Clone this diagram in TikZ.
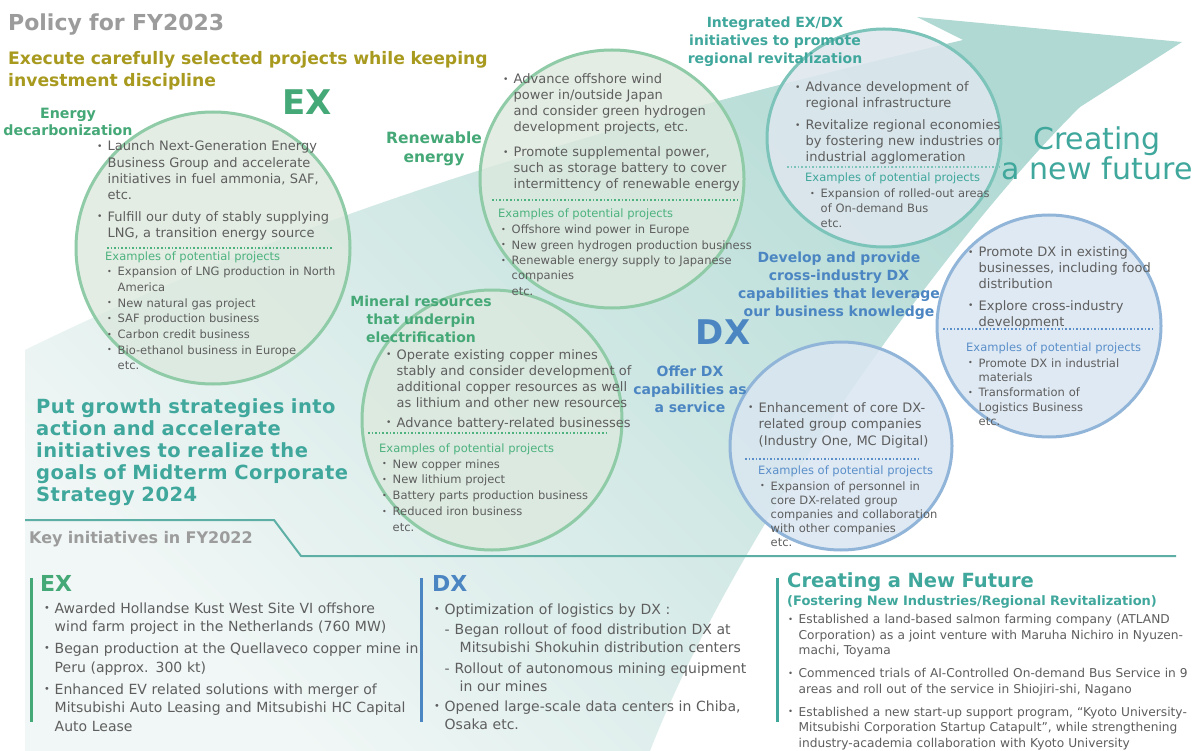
\documentclass[tikz,border=0pt]{standalone}
\usepackage{fontspec}
\setmainfont{DejaVu Sans}
\newfontfamily\spacedfont[LetterSpace=2.5]{DejaVu Sans}
\usetikzlibrary{calc}

\definecolor{exgreen}{HTML}{45A877}
\definecolor{exlight}{HTML}{4DB27E}
\definecolor{dxblue}{HTML}{4C86C2}
\definecolor{dxlight}{HTML}{5A8FCA}
\definecolor{nftel}{HTML}{3FA79C}
\definecolor{polcol}{HTML}{A89A1F}
\definecolor{bodygray}{HTML}{5E5E5E}
\definecolor{headgray}{HTML}{9C9C9C}
\definecolor{grnline}{HTML}{8ECBA6}
\definecolor{grnfill}{HTML}{DCE9DE}
\definecolor{blueline}{HTML}{91B5D8}
\definecolor{bluefill}{HTML}{DAE6F1}
\definecolor{tealline}{HTML}{7CC3BA}
\definecolor{tealfill}{HTML}{DEE7EE}
\definecolor{arrlight}{HTML}{F1F7F6}
\definecolor{arrdark}{HTML}{B0D9D3}
\definecolor{sepline}{HTML}{5DAFA6}

\newlength\bind
\setlength\bind{10.5pt}
\newcommand\dotmark{\raisebox{.12em}{\scalebox{.7}{•}}}
\newcommand\itm[1]{\hangindent=\bind\hangafter=1\noindent
  \makebox[\bind][l]{\dotmark}#1\par}
\newcommand\subitm[1]{\hangindent=\dimexpr\bind+15pt\relax\hangafter=1
  \noindent\hspace*{\bind}\makebox[10pt][l]{-}#1\par}
\newcommand\etcl{\noindent\hspace*{\bind}etc.\par}

\tikzset{
  lst/.style 2 args={anchor=base west, inner sep=0pt, align=left,
    text width=430pt, text=bodygray, font=\fontsize{#1}{#2}\selectfont},
  hd/.style 2 args={anchor=base, inner sep=0pt, align=center,
    text width=260pt, font=\bfseries\fontsize{#1}{#2}\selectfont},
  tl/.style 2 args={anchor=base west, inner sep=0pt, align=left,
    text width=560pt, font=\bfseries\fontsize{#1}{#2}\selectfont},
  gap/.style={execute at begin node={\setlength\parskip{#1}}},
  exhd/.style={anchor=base west, inner sep=0pt,
    font=\fontsize{11.5}{14}\selectfont},
  dots/.style={line width=2pt, dash pattern=on 1.5pt off 2.1pt},
  rim/.style={draw=#1, line width=3pt},
  bar/.style={line width=3pt, draw=#1}
}

\begin{document}
\begin{tikzpicture}[x=1pt,y=-1pt]
\useasboundingbox (0,0) rectangle (1193,751);
\fill[white] (0,0) rectangle (1193,751);
\shade[left color=arrlight,right color=arrdark,shading angle=135]
  (25,350) .. controls (300,215) and (600,125) .. (963,40) -- (917,17)
  -- (1182,42) -- (1080,107) .. controls (960,225) and (740,520) .. (650,751)
  -- (25,751) -- cycle;

% bubbles
\fill[grnfill,fill opacity=.8] (213,248) ellipse [x radius=137,y radius=136];
\fill[grnfill,fill opacity=.8] (612,179) ellipse [x radius=132,y radius=129];
\fill[grnfill,fill opacity=.8] (492,420) ellipse [x radius=130,y radius=130];
\fill[tealfill,fill opacity=.85] (884,138) ellipse [x radius=117,y radius=109];
\fill[bluefill,fill opacity=.85] (1049,326) ellipse [x radius=112,y radius=111];
\fill[bluefill,fill opacity=.85] (841,446) ellipse [x radius=111,y radius=104];
\draw[rim=grnline] (213,248) ellipse [x radius=137,y radius=136];
\draw[rim=grnline] (612,179) ellipse [x radius=132,y radius=129];
\draw[rim=grnline] (492,420) ellipse [x radius=130,y radius=130];
\draw[rim=tealline] (884,138) ellipse [x radius=117,y radius=109];
\draw[rim=blueline] (1049,326) ellipse [x radius=112,y radius=111];
\draw[rim=blueline] (841,446) ellipse [x radius=111,y radius=104];

% headings
\node[tl={22}{26}, text=headgray] (ttl) at (8,31) {Policy for FY2023};
\node[tl={17.2}{22}, text=polcol] (exec) at (8,65)
  {Execute carefully selected projects while keeping\\investment discipline};
\node[hd={34}{34}, text=exgreen] (bigex) at (307,115) {EX};
\node[hd={34}{34}, text=dxblue] (bigdx) at (723,344) {DX};
\node[hd={14.2}{17}, text=exgreen] (hdenergy) at (68,119) {Energy\\decarbonization};
\node[hd={15.5}{19}, text=exgreen] (hdrenew) at (434,144) {Renewable\\energy};
\node[hd={14}{18}, text=exgreen] (hdmineral) at (421,306)
  {Mineral resources\\that underpin\\electrification};
\node[hd={14}{18}, text=nftel] (hdregion) at (775,28)
  {Integrated EX/DX\\initiatives to promote\\regional revitalization};
\node[hd={14}{18.2}, text=dxblue] (hddevelop) at (839,262)
  {Develop and provide\\cross-industry DX\\capabilities that leverage\\our business knowledge};
\node[hd={14}{18}, text=dxblue] (hdoffer) at (690,376)
  {Offer DX\\capabilities as\\a service};
\node[anchor=base, inner sep=0pt, align=center, text width=260pt, text=nftel,
  font=\fontsize{30}{30}\selectfont] (newfut) at (1097,150)
  {Creating\\a new future};
\node[anchor=base west, inner sep=0pt, align=left, text width=400pt, text=nftel,
  font=\spacedfont\bfseries\fontsize{19.5}{22.2}\selectfont] (growth) at (36,413)
  {Put growth strategies into\\action and accelerate\\initiatives to realize the\\goals of Midterm Corporate\\Strategy 2024};

% circle 1
\node[lst={13}{16.3}, gap=5pt] (c1main) at (97,151) {%
  \itm{Launch Next-Generation Energy\newline Business Group and accelerate\newline initiatives in fuel ammonia, SAF,\newline etc.}
  \itm{Fulfill our duty of stably supplying\newline LNG, a transition energy source}};
\draw[dots, exlight] (107,248) -- (333,248);
\node[exhd, text=exlight] (c1exhd) at (105,260) {Examples of potential projects};
\node[lst={11.5}{15.6}] (c1ex) at (107,276) {%
  \itm{Expansion of LNG production in North\newline America}
  \itm{New natural gas project}
  \itm{SAF production business}
  \itm{Carbon credit business}
  \itm{Bio-ethanol business in Europe}
  \etcl};

% circle 2
\node[lst={13}{16}, gap=9pt] (c2main) at (503,84) {%
  \itm{Advance offshore wind\newline power in/outside Japan\newline and consider green hydrogen\newline development projects, etc.}
  \itm{Promote supplemental power,\newline such as storage battery to cover\newline intermittency of renewable energy}};
\draw[dots, exlight] (492,200) -- (737,200);
\node[exhd, text=exlight] (c2exhd) at (498,218) {Examples of potential projects};
\node[lst={11.5}{15.3}] (c2ex) at (501,234) {%
  \itm{Offshore wind power in Europe}
  \itm{New green hydrogen production business}
  \itm{Renewable energy supply to Japanese\newline companies}
  \etcl};

% circle 3
\node[lst={13}{16}, gap=6pt] (c3main) at (795,92) {%
  \itm{Advance development of\newline regional infrastructure}
  \itm{Revitalize regional economies\newline by fostering new industries or\newline industrial agglomeration}};
\draw[dots, tealline] (787,167) -- (1000,167);
\node[exhd, text=nftel] (c3exhd) at (805,182) {Examples of potential projects};
\node[lst={11.5}{15}] (c3ex) at (810,198) {%
  \itm{Expansion of rolled-out areas\newline of On-demand Bus}
  \etcl};

% circle 4
\node[lst={13}{15.8}, gap=6pt] (c4main) at (968,257) {%
  \itm{Promote DX in existing\newline businesses, including food\newline distribution}
  \itm{Explore cross-industry\newline development}};
\draw[dots, dxlight] (943,329) -- (1152,329);
\node[exhd, text=dxlight] (c4exhd) at (966,351) {Examples of potential projects};
\node[lst={11.5}{14.7}] (c4ex) at (968,367) {%
  \itm{Promote DX in industrial\newline materials}
  \itm{Transformation of\newline Logistics Business}
  \etcl};

% circle 5
\node[lst={13}{16.5}] (c5main) at (748,412) {%
  \itm{Enhancement of core DX-\newline related group companies\newline (Industry One, MC Digital)}};
\draw[dots, dxlight] (745,459) -- (920,459);
\node[exhd, text=dxlight] (c5exhd) at (758,474) {Examples of potential projects};
\node[lst={11.5}{14.2}] (c5ex) at (760,490) {%
  \itm{Expansion of personnel in\newline core DX-related group\newline companies and collaboration\newline with other companies}
  \etcl};

% circle 6
\node[lst={13}{16}, gap=4pt] (c6main) at (386,359) {%
  \itm{Operate existing copper mines\newline stably and consider development of\newline additional copper resources as well\newline as lithium and other new resources}
  \itm{Advance battery-related businesses}};
\draw[dots, exlight] (368,433) -- (607,433);
\node[exhd, text=exlight] (c6exhd) at (379,452) {Examples of potential projects};
\node[lst={11.5}{15.8}] (c6ex) at (382,468) {%
  \itm{New copper mines}
  \itm{New lithium project}
  \itm{Battery parts production business}
  \itm{Reduced iron business}
  \etcl};

% key initiatives
\draw[line width=2pt, sepline] (25,520) -- (274,520) -- (301,556) -- (1176,556);
\node[tl={16}{20}, text=headgray] (keyhd) at (29,543) {Key initiatives in FY2022};
\draw[bar=exgreen] (31,578) -- (31,722);
\draw[bar=dxblue] (421,578) -- (421,722);
\draw[bar=nftel] (777,578) -- (777,722);
\node[tl={22}{26}, text=exgreen] (btex) at (40,591) {EX};
\node[tl={22}{26}, text=dxblue] (btdx) at (432,591) {DX};
\node[tl={19.5}{24}, text=nftel] (btnf) at (787,587) {Creating a New Future};
\node[tl={13}{16}, text=nftel] (btnfsub) at (787,605)
  {(Fostering New Industries/Regional Revitalization)};

\node[lst={14}{18.5}, gap=3.5pt] (exlst) at (44,613) {%
  \itm{Awarded Hollandse Kust West Site VI offshore\newline wind farm project in the Netherlands (760 MW)}
  \itm{Began production at the Quellaveco copper mine in\newline Peru (approx. 300 kt)}
  \itm{Enhanced EV related solutions with merger of\newline Mitsubishi Auto Leasing and Mitsubishi HC Capital\newline Auto Lease}};
\node[lst={14}{18}, gap=2.5pt] (dxlst) at (434,614) {%
  \itm{Optimization of logistics by DX :}
  \subitm{Began rollout of food distribution DX at\newline Mitsubishi Shokuhin distribution centers}
  \subitm{Rollout of autonomous mining equipment\newline in our mines}
  \itm{Opened large-scale data centers in Chiba,\newline Osaka etc.}};
\node[lst={12.2}{15.7}, gap=7pt] (nflst) at (788,623.5) {%
  \itm{Established a land-based salmon farming company (ATLAND\newline Corporation) as a joint venture with Maruha Nichiro in Nyuzen-\newline machi, Toyama}
  \itm{Commenced trials of AI-Controlled On-demand Bus Service in 9\newline areas and roll out of the service in Shiojiri-shi, Nagano}
  \itm{Established a new start-up support program, “Kyoto University-\newline Mitsubishi Corporation Startup Catapult”, while strengthening\newline industry-academia collaboration with Kyoto University}};
\end{tikzpicture}
\end{document}
